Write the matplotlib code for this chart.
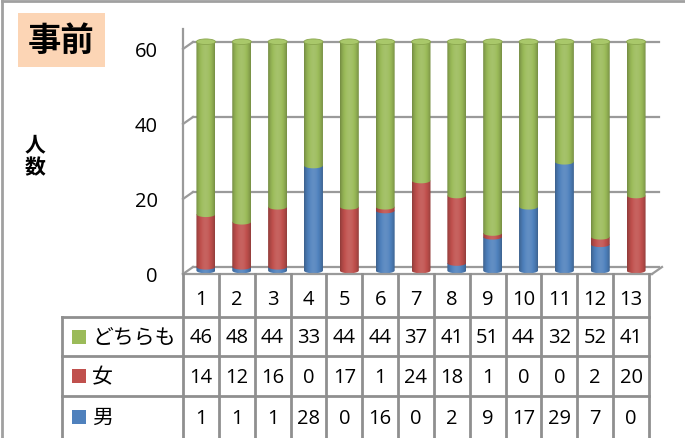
import numpy as np
import matplotlib
matplotlib.use("Agg")
import matplotlib.pyplot as plt
from matplotlib.transforms import ScaledTranslation
from matplotlib.path import Path
from matplotlib.patches import PathPatch, Ellipse, Rectangle
from matplotlib.colors import to_rgb

plt.rcParams['font.family'] = ['Noto Sans CJK JP', 'DejaVu Sans']

categories = [str(i) for i in range(1, 14)]
series_names = ["どちらも", "女", "男"]
dochira = [46, 48, 44, 33, 44, 44, 37, 41, 51, 44, 32, 52, 41]
onna = [14, 12, 16, 0, 17, 1, 24, 18, 1, 0, 0, 2, 20]
otoko = [1, 1, 1, 28, 0, 16, 0, 2, 9, 17, 29, 7, 0]
yticks = [0, 20, 40, 60]

col_green = "#9BBB59"
col_red = "#C0504D"
col_blue = "#4F81BD"

W, H = 685, 439
DPI = 100
fig = plt.figure(figsize=(W / DPI, H / DPI), dpi=DPI)


def fx(px):
    return px / W


def fy(py):
    return 1 - py / H


x_left, x_right = 183, 649
y0_px, y60_px = 275, 50
ppu = (y0_px - y60_px) / 60.0  # pixels per unit
YMAX = 66
ax = fig.add_axes([fx(x_left), fy(y0_px), (x_right - x_left) / W, YMAX * ppu / H])
ax.set_xlim(0.5, 13.5)
ax.set_ylim(0, YMAX)
ax.axis('off')

ov = fig.add_axes([0, 0, 1, 1], zorder=5)
ov.set_xlim(0, W)
ov.set_ylim(H, 0)
ov.axis('off')

gray = "#9a9a9a"
back_off = ScaledTranslation(10 / DPI, 7 / DPI, fig.dpi_scale_trans)
mid_off = ScaledTranslation(5 / DPI, 3.5 / DPI, fig.dpi_scale_trans)
t_back = ax.transData + back_off
t_mid = ax.transData + mid_off


def ypx(v):
    return y0_px - v * ppu


for v in yticks:
    ax.plot([0.5, 13.5], [v, v], color=gray, lw=1.6, transform=t_back, clip_on=False, zorder=1)
    ov.plot([x_left, x_left + 10], [ypx(v), ypx(v) - 7], color=gray, lw=1.6, zorder=1)
ov.plot([x_left, x_left], [y0_px, 30], color=gray, lw=1.6)
ov.plot([x_left, x_right + 3], [y0_px, y0_px], color=gray, lw=1.6)
ov.plot([x_right + 3, x_right + 13], [y0_px, y0_px - 7], color=gray, lw=1.6)

for v in yticks:
    ov.text(158, ypx(v) + 2, str(v), ha='right', va='center', fontsize=14.5,
            family=['Open Sans', 'DejaVu Sans'])

x = np.arange(1, 14)
bw = 0.53
stack = [(otoko, col_blue), (onna, col_red), (dochira, col_green)]
bottom = np.zeros(13)
ell_h = 0.75

tt = np.linspace(0, 1, 64)
shade = 0.68 + 0.40 * np.sin(np.pi * (tt * 0.95 + 0.02)) ** 0.7


def shaded_img(color):
    c = np.array(to_rgb(color))
    img = np.zeros((1, len(tt), 3))
    for i, s in enumerate(shade):
        if s <= 1:
            img[0, i] = c * s
        else:
            img[0, i] = c + (1 - c) * (s - 1) * 1.3
    return np.clip(img, 0, 1)


for vals, color in stack:
    vals = np.array(vals, dtype=float)
    bars = ax.bar(x, vals, bw, bottom=bottom, color=color, transform=t_mid, zorder=2, linewidth=0)
    img = shaded_img(color)
    for b, v in zip(bars, vals):
        b.set_visible(False)
        if v <= 0:
            continue
        x0, w, yb, h = b.get_x(), b.get_width(), b.get_y(), b.get_height()
        cx = x0 + w / 2
        th = np.linspace(np.pi, 2 * np.pi, 30)
        ex = cx + (w / 2) * np.cos(th)
        ey = yb + ell_h * np.sin(th)
        verts = [(x0, yb + h)] + list(zip(ex, ey)) + [(x0 + w, yb + h), (x0, yb + h)]
        codes = [Path.MOVETO] + [Path.LINETO] * (len(verts) - 2) + [Path.CLOSEPOLY]
        patch = PathPatch(Path(verts, codes), facecolor='none', edgecolor='none', transform=t_mid,
                          clip_on=False)
        ax.add_patch(patch)
        im = ax.imshow(img, extent=(x0, x0 + w, yb - ell_h - 0.2, yb + h), aspect='auto',
                       transform=t_mid, zorder=3, interpolation='bilinear')
        im.set_clip_path(patch)
    bottom = bottom + vals

for xi, top in zip(x, bottom):
    cap = Ellipse((xi, top), bw, 2 * ell_h, facecolor="#A9C86A", edgecolor="#8AA64E", lw=0.6,
                  transform=t_mid, zorder=4, clip_on=False)
    ax.add_patch(cap)
ax.set_xlim(0.5, 13.5)
ax.set_ylim(0, YMAX)

# data table
cw = (x_right - x_left) / 13
tcol = "#8f8f8f"
row_y = [275, 318, 357, 397, 439]
lab_left = 62
for i in range(14):
    xx = x_left + i * cw
    ov.plot([xx, xx], [275, 440], color=tcol, lw=2, zorder=6, clip_on=False)
ov.plot([lab_left, lab_left], [318, 440], color=tcol, lw=2, zorder=6, clip_on=False)
for yy in row_y[1:4]:
    ov.plot([lab_left, x_right], [yy, yy], color=tcol, lw=2, zorder=6)

num_font = ['Open Sans', 'DejaVu Sans']
for i, c in enumerate(categories):
    ov.text(x_left + (i + 0.5) * cw, 300, c, ha='center', va='center', fontsize=14.5, family=num_font, zorder=7)

rows = [(series_names[0], dochira, col_green), (series_names[1], onna, col_red), (series_names[2], otoko, col_blue)]
for r, (name, vals, color) in enumerate(rows):
    yc = (row_y[r + 1] + row_y[r + 2]) / 2
    ov.add_patch(Rectangle((72, yc - 7), 14, 14, facecolor=color, edgecolor='none', zorder=7))
    ov.text(92, yc, name, ha='left', va='center', fontsize=15, zorder=7)
    for i, v in enumerate(vals):
        ov.text(x_left + (i + 0.5) * cw, yc + 1, str(v), ha='center', va='center', fontsize=14.5,
                family=num_font, zorder=7)

ov.text(35, 145, "人", ha='center', va='center', fontsize=15, fontweight='bold')
ov.text(35, 168, "数", ha='center', va='center', fontsize=15, fontweight='bold')

ov.add_patch(Rectangle((18, 14), 87, 54, facecolor="#FCD5B5", edgecolor='none', zorder=6))
ov.text(61.5, 41, "事前", ha='center', va='center', fontsize=24, fontweight='bold', zorder=7)

ov.plot([2, W], [1.5, 1.5], color="#a0a0a0", lw=2, clip_on=False)
ov.plot([2, 2], [1.5, H], color="#a0a0a0", lw=2, clip_on=False)

fig.savefig("out.png", dpi=DPI)
